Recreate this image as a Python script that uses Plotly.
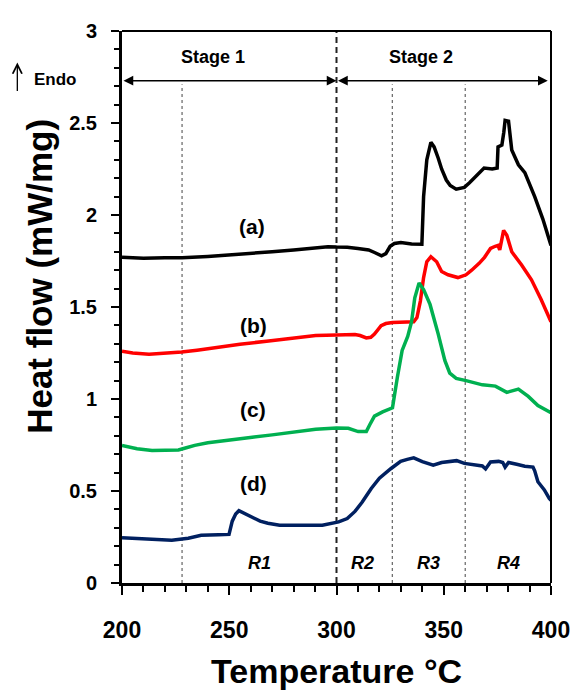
import plotly.graph_objects as go

# ---- data ----
temp_a = [200, 210, 220, 228, 240, 250, 260, 270, 280, 290, 296, 300, 305, 310, 315, 318, 321, 323, 325, 327,
          330, 335, 339.8, 340.6, 342.1, 344, 345.5, 347.4, 349, 351.2, 353, 355.8, 359.6, 362, 364.9, 368.8,
          372.6, 374.9, 375.3, 377.1, 378.0, 378.6, 380.2, 381.7, 384.8, 387.8, 392.4, 396.2, 400]
flow_a = [1.77, 1.765, 1.768, 1.768, 1.775, 1.782, 1.79, 1.80, 1.81, 1.82, 1.828, 1.826, 1.825, 1.818, 1.81,
          1.795, 1.778, 1.79, 1.83, 1.845, 1.85, 1.842, 1.841, 2.10, 2.30, 2.395, 2.37, 2.31, 2.25, 2.19, 2.16,
          2.14, 2.15, 2.175, 2.21, 2.255, 2.25, 2.255, 2.37, 2.38, 2.45, 2.514, 2.51, 2.353, 2.273, 2.23, 2.10,
          1.978, 1.835]

temp_b = [200, 205, 212.6, 220, 227.8, 235, 244.6, 255, 267.4, 280, 290.3, 300, 308.6, 311, 313.9, 316, 317.7,
          320.8, 323, 326.1, 332.9, 336, 337.5, 339.1, 340.6, 342.1, 344, 346.7, 349, 352, 356.6, 360.4, 363,
          366.5, 369, 371.8, 374, 375.3, 376.1, 377.9, 379.4, 381.7, 386.3, 390.9, 395.4, 399.2, 400]
flow_b = [1.259, 1.25, 1.243, 1.248, 1.255, 1.265, 1.282, 1.298, 1.314, 1.33, 1.345, 1.348, 1.350, 1.345, 1.332,
          1.335, 1.353, 1.398, 1.41, 1.416, 1.416, 1.42, 1.443, 1.532, 1.66, 1.746, 1.773, 1.746, 1.693, 1.675,
          1.66, 1.675, 1.70, 1.737, 1.77, 1.818, 1.83, 1.835, 1.81, 1.916, 1.89, 1.80, 1.728, 1.648, 1.541,
          1.434, 1.42]

temp_c = [200, 207, 214, 220, 226.3, 230, 233.9, 240, 250, 259.8, 270, 280, 290.3, 300, 305.5, 310.1, 313.9,
          315.5, 317.7, 321.5, 326.1, 328.4, 330.6, 333.2, 335, 336.5, 338.5, 340.6, 343.6, 347.4, 350.5, 352.8,
          355.8, 360.4, 368, 374.1, 379.4, 384.8, 389.4, 393.9, 400]
flow_c = [0.747, 0.73, 0.72, 0.72, 0.723, 0.735, 0.748, 0.762, 0.778, 0.791, 0.805, 0.82, 0.836, 0.842, 0.841,
          0.823, 0.823, 0.86, 0.907, 0.93, 0.952, 1.12, 1.264, 1.34, 1.42, 1.55, 1.63, 1.595, 1.514, 1.354,
          1.21, 1.14, 1.112, 1.10, 1.077, 1.07, 1.036, 1.054, 1.014, 0.964, 0.925]

temp_d = [200, 210, 223.2, 230.9, 236.9, 245, 249.9, 251.4, 253, 254.5, 256.8, 260, 264.4, 268, 273.5, 283,
          293.4, 301, 305, 308.6, 312, 316.2, 320, 325.3, 329.9, 333, 336, 340, 345.1, 349, 352.8, 356, 359.6,
          364, 368, 369.5, 371.8, 375.6, 377.5, 378.6, 380.2, 384, 387.8, 391.6, 392.4, 393.9, 396.9, 399.2, 400]
flow_d = [0.246, 0.24, 0.232, 0.243, 0.259, 0.262, 0.264, 0.336, 0.375, 0.393, 0.38, 0.36, 0.336, 0.325, 0.314,
          0.314, 0.314, 0.332, 0.35, 0.389, 0.44, 0.514, 0.57, 0.621, 0.661, 0.672, 0.680, 0.66, 0.64, 0.655,
          0.662, 0.665, 0.65, 0.645, 0.636, 0.62, 0.658, 0.661, 0.655, 0.63, 0.655, 0.645, 0.635, 0.63, 0.61,
          0.55, 0.506, 0.46, 0.45]

series_names = ["(a)", "(b)", "(c)", "(d)"]
series_colors = ["#000000", "#ff0000", "#00b050", "#002060"]
curve_labels = ["(a)", "(b)", "(c)", "(d)"]
label_x = [260.6, 261.3, 261.3, 261.3]
label_y = [1.935, 1.398, 0.943, 0.541]

region_names = ["R1", "R2", "R3", "R4"]
region_x = [264, 312, 343, 380]
region_y = 0.11
region_bounds = [228, 326, 360]
stage_bound = 300
stage_names = ["Stage 1", "Stage 2"]
stage_label_x = [242.5, 339.6]
stage_label_y = 2.86
stage_arrow_y = 2.73
stage_spans = [(200, 300), (300, 398.5)]

x_ticks = [200, 250, 300, 350, 400]
y_ticks = [0, 0.5, 1, 1.5, 2, 2.5, 3]

BOLD = "Liberation Sans, Arial, sans-serif"

fig = go.Figure()
for t, f, n, c in zip([temp_a, temp_b, temp_c, temp_d], [flow_a, flow_b, flow_c, flow_d],
                      series_names, series_colors):
    fig.add_trace(go.Scatter(x=t, y=f, mode="lines", name=n,
                             line=dict(color=c, width=3.5), showlegend=False))

shapes = []
for xb in region_bounds:
    shapes.append(dict(type="line", xref="x", yref="y", x0=xb, x1=xb, y0=0, y1=2.71,
                       line=dict(color="#444444", width=1, dash="3px,3px"), layer="below"))
shapes.append(dict(type="line", xref="x", yref="y", x0=stage_bound, x1=stage_bound, y0=0, y1=3,
                   line=dict(color="#222222", width=2, dash="6px,4px"), layer="below"))
# top and right frame
shapes.append(dict(type="line", xref="paper", yref="paper", x0=0, x1=1, y0=1, y1=1,
                   line=dict(color="black", width=2)))
shapes.append(dict(type="line", xref="paper", yref="paper", x0=1, x1=1, y0=0, y1=1,
                   line=dict(color="black", width=2)))

annotations = []
for (x0, x1) in stage_spans:
    annotations.append(dict(x=x1, y=stage_arrow_y, ax=x0, ay=stage_arrow_y, xref="x", yref="y",
                            axref="x", ayref="y", text="", showarrow=True, arrowhead=2,
                            arrowside="end+start", arrowsize=1.3, arrowwidth=1.5, arrowcolor="black"))
for name, xs in zip(stage_names, stage_label_x):
    annotations.append(dict(x=xs, y=stage_label_y, xref="x", yref="y", text=name, showarrow=False,
                            font=dict(family=BOLD, size=18, color="black", weight="bold")))
for name, xs, ys in zip(curve_labels, label_x, label_y):
    annotations.append(dict(x=xs, y=ys, xref="x", yref="y", text=name, showarrow=False,
                            font=dict(family=BOLD, size=21, color="black", weight="bold")))
for name, xs in zip(region_names, region_x):
    annotations.append(dict(x=xs, y=region_y, xref="x", yref="y", text=name, showarrow=False,
                            font=dict(family=BOLD, size=18, color="black", weight="bold", style="italic")))
# axis titles
annotations.append(dict(x=-0.194, y=0.556, xref="paper", yref="paper", text="Heat flow (mW/mg)",
                        textangle=-90, showarrow=False, xanchor="center", yanchor="middle",
                        font=dict(family=BOLD, size=35, color="black", weight="bold")))
annotations.append(dict(x=0.5, y=-0.16, xref="paper", yref="paper", text="Temperature °C",
                        showarrow=False, xanchor="center", yanchor="middle",
                        font=dict(family=BOLD, size=34, color="black", weight="bold")))
# endo marker: upward arrow + label
annotations.append(dict(x=-0.244, y=0.943, xref="paper", yref="paper", text="", showarrow=True,
                        ax=0, ay=30, arrowhead=5, arrowsize=1.4, arrowwidth=1.3, arrowcolor="black"))
annotations.append(dict(x=-0.155, y=0.912, xref="paper", yref="paper", text="Endo", showarrow=False,
                        xanchor="center", yanchor="middle",
                        font=dict(family=BOLD, size=17, color="black", weight="bold")))

fig.update_layout(
    width=574, height=687,
    margin=dict(l=114, r=22, t=15, b=112),
    paper_bgcolor="white", plot_bgcolor="white",
    shapes=shapes, annotations=annotations,
    xaxis=dict(range=[200, 400], tickvals=x_ticks, showgrid=False, zeroline=False,
               showline=True, linecolor="black", linewidth=3,
               ticks="outside", ticklen=9, tickwidth=2, tickcolor="black",
               ticklabelstandoff=15,
               tickfont=dict(family=BOLD, size=23, color="black", weight="bold"),
               minor=dict(dtick=10, ticks="outside", ticklen=6, tickwidth=2, tickcolor="black")),
    yaxis=dict(range=[0, 3], tickvals=y_ticks, showgrid=False, zeroline=False,
               showline=True, linecolor="black", linewidth=3,
               ticks="outside", ticklen=8, tickwidth=2, tickcolor="black",
               ticklabelstandoff=10,
               tickfont=dict(family=BOLD, size=20, color="black", weight="bold"),
               minor=dict(dtick=0.1, ticks="outside", ticklen=5, tickwidth=2, tickcolor="black")),
)

fig.write_html("out.html")
